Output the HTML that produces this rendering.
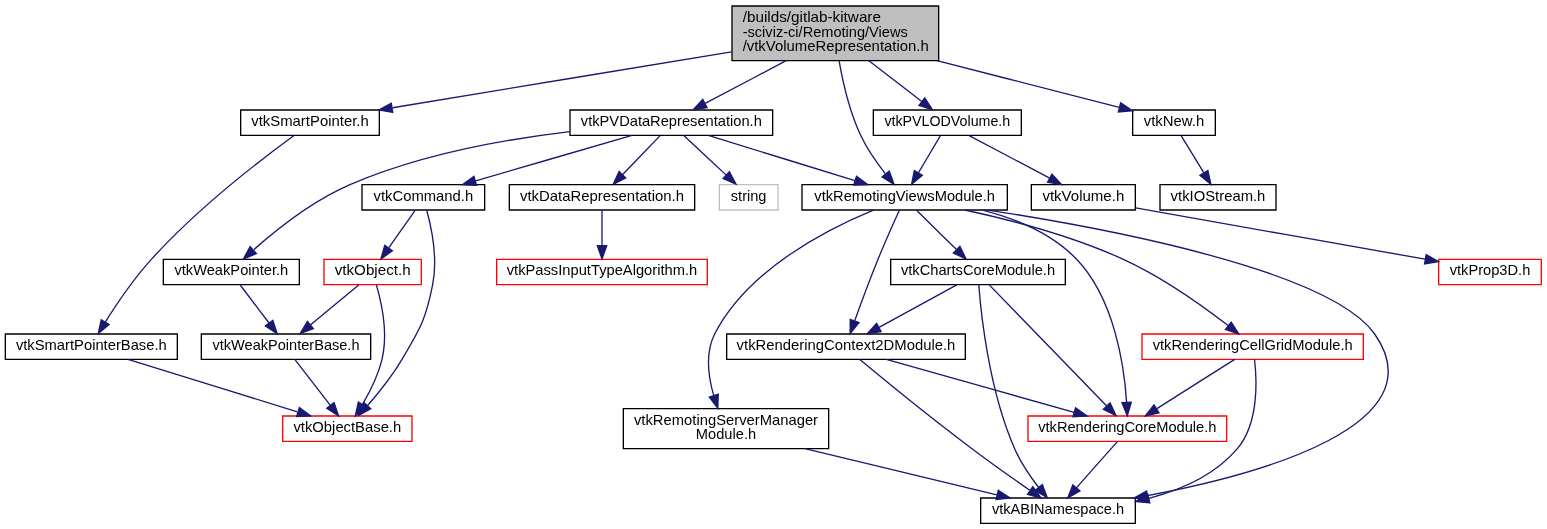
<!DOCTYPE html>
<html><head><meta charset="utf-8"><style>
html,body{margin:0;padding:0;background:#fff;width:1547px;height:529px;overflow:hidden}
svg{display:block;will-change:transform}
text{font-family:"Liberation Sans",sans-serif;font-size:10.4px;fill:#000}
</style></head><body>
<svg width="1547" height="529" viewBox="0 0 1547 529">
<g transform="scale(1.333333) translate(4 392.5)">
<polygon fill="#bfbfbf" stroke="#000" points="700,-388 545,-388 545,-347 700,-347 700,-388"/>
<text text-anchor="start" x="553" y="-376" textLength="103.71" lengthAdjust="spacingAndGlyphs">/builds/gitlab&#45;kitware</text>
<text text-anchor="start" x="553" y="-365" textLength="123.84" lengthAdjust="spacingAndGlyphs">&#45;sciviz&#45;ci/Remoting/Views</text>
<text text-anchor="start" x="553" y="-354" textLength="139.53" lengthAdjust="spacingAndGlyphs">/vtkVolumeRepresentation.h</text>
<polygon fill="#fff" stroke="#000" points="575.5,-310 423.5,-310 423.5,-291 575.5,-291 575.5,-310"/>
<text text-anchor="middle" x="499.5" y="-298" textLength="135.77" lengthAdjust="spacingAndGlyphs">vtkPVDataRepresentation.h</text>
<polygon fill="#fff" stroke="#000" points="751.5,-254 597.5,-254 597.5,-235 751.5,-235 751.5,-254"/>
<text text-anchor="middle" x="674.5" y="-242" textLength="135.52" lengthAdjust="spacingAndGlyphs">vtkRemotingViewsModule.h</text>
<polygon fill="#fff" stroke="#000" points="907.5,-310 845.5,-310 845.5,-291 907.5,-291 907.5,-310"/>
<text text-anchor="middle" x="876.5" y="-298" textLength="45.35" lengthAdjust="spacingAndGlyphs">vtkNew.h</text>
<polygon fill="#fff" stroke="#000" points="762,-310 651,-310 651,-291 762,-291 762,-310"/>
<text text-anchor="middle" x="706.5" y="-298" textLength="94.39" lengthAdjust="spacingAndGlyphs">vtkPVLODVolume.h</text>
<polygon fill="#fff" stroke="#000" points="280.5,-310 176.5,-310 176.5,-291 280.5,-291 280.5,-310"/>
<text text-anchor="middle" x="228.5" y="-298" textLength="88.23" lengthAdjust="spacingAndGlyphs">vtkSmartPointer.h</text>
<polygon fill="#fff" stroke="#000" points="359.5,-254 267.5,-254 267.5,-235 359.5,-235 359.5,-254"/>
<text text-anchor="middle" x="313.5" y="-242" textLength="74.69" lengthAdjust="spacingAndGlyphs">vtkCommand.h</text>
<polygon fill="#fff" stroke="#000" points="517,-254 378,-254 378,-235 517,-235 517,-254"/>
<text text-anchor="middle" x="447.5" y="-242" textLength="123.10" lengthAdjust="spacingAndGlyphs">vtkDataRepresentation.h</text>
<polygon fill="#fff" stroke="#000" points="220.5,-198 118.5,-198 118.5,-179 220.5,-179 220.5,-198"/>
<text text-anchor="middle" x="169.5" y="-186" textLength="85.40" lengthAdjust="spacingAndGlyphs">vtkWeakPointer.h</text>
<polygon fill="#fff" stroke="#bfbfbf" points="579.5,-254 535.5,-254 535.5,-235 579.5,-235 579.5,-254"/>
<text text-anchor="middle" x="557.5" y="-242" textLength="26.75" lengthAdjust="spacingAndGlyphs">string</text>
<polygon fill="#fff" stroke="#ff0000" points="312,-198 239,-198 239,-179 312,-179 312,-198"/>
<text text-anchor="middle" x="275.5" y="-186" textLength="56.86" lengthAdjust="spacingAndGlyphs">vtkObject.h</text>
<polygon fill="#fff" stroke="#ff0000" points="305,-80.5 208,-80.5 208,-61.5 305,-61.5 305,-80.5"/>
<text text-anchor="middle" x="256.5" y="-68.5" textLength="80.84" lengthAdjust="spacingAndGlyphs">vtkObjectBase.h</text>
<polygon fill="#fff" stroke="#000" points="274,-142 147,-142 147,-123 274,-123 274,-142"/>
<text text-anchor="middle" x="210.5" y="-130" textLength="110.30" lengthAdjust="spacingAndGlyphs">vtkWeakPointerBase.h</text>
<polygon fill="#fff" stroke="#ff0000" points="526.5,-198 368.5,-198 368.5,-179 526.5,-179 526.5,-198"/>
<text text-anchor="middle" x="447.5" y="-186" textLength="142.93" lengthAdjust="spacingAndGlyphs">vtkPassInputTypeAlgorithm.h</text>
<polygon fill="#fff" stroke="#000" points="847.5,-19 731.5,-19 731.5,0 847.5,0 847.5,-19"/>
<text text-anchor="middle" x="789.5" y="-7" textLength="99.13" lengthAdjust="spacingAndGlyphs">vtkABINamespace.h</text>
<polygon fill="#fff" stroke="#000" points="617.5,-86 463.5,-86 463.5,-56 617.5,-56 617.5,-86"/>
<text text-anchor="middle" x="540.5" y="-74" textLength="138.06" lengthAdjust="spacingAndGlyphs">vtkRemotingServerManager</text>
<text text-anchor="middle" x="540.5" y="-63" textLength="45.20" lengthAdjust="spacingAndGlyphs">Module.h</text>
<polygon fill="#fff" stroke="#000" points="795,-198 664,-198 664,-179 795,-179 795,-198"/>
<text text-anchor="middle" x="729.5" y="-186" textLength="115.59" lengthAdjust="spacingAndGlyphs">vtkChartsCoreModule.h</text>
<polygon fill="#fff" stroke="#000" points="720,-142 541,-142 541,-123 720,-123 720,-142"/>
<text text-anchor="middle" x="630.5" y="-130" textLength="164.08" lengthAdjust="spacingAndGlyphs">vtkRenderingContext2DModule.h</text>
<polygon fill="#fff" stroke="#ff0000" points="916,-80.5 767,-80.5 767,-61.5 916,-61.5 916,-80.5"/>
<text text-anchor="middle" x="841.5" y="-68.5" textLength="133.69" lengthAdjust="spacingAndGlyphs">vtkRenderingCoreModule.h</text>
<polygon fill="#fff" stroke="#ff0000" points="1018.5,-142 852.5,-142 852.5,-123 1018.5,-123 1018.5,-142"/>
<text text-anchor="middle" x="935.5" y="-130" textLength="149.97" lengthAdjust="spacingAndGlyphs">vtkRenderingCellGridModule.h</text>
<polygon fill="#fff" stroke="#000" points="953,-254 866,-254 866,-235 953,-235 953,-254"/>
<text text-anchor="middle" x="909.5" y="-242" textLength="71.07" lengthAdjust="spacingAndGlyphs">vtkIOStream.h</text>
<polygon fill="#fff" stroke="#000" points="847.5,-254 769.5,-254 769.5,-235 847.5,-235 847.5,-254"/>
<text text-anchor="middle" x="808.5" y="-242" textLength="61.41" lengthAdjust="spacingAndGlyphs">vtkVolume.h</text>
<polygon fill="#fff" stroke="#ff0000" points="1152,-198 1075,-198 1075,-179 1152,-179 1152,-198"/>
<text text-anchor="middle" x="1113.5" y="-186" textLength="60.50" lengthAdjust="spacingAndGlyphs">vtkProp3D.h</text>
<polygon fill="#fff" stroke="#000" points="129,-142 0,-142 0,-123 129,-123 129,-142"/>
<text text-anchor="middle" x="64.5" y="-130" textLength="113.14" lengthAdjust="spacingAndGlyphs">vtkSmartPointerBase.h</text>
<path fill="none" stroke="#191970" d="M585.6,-347 C566.01,-336.65 542.45,-324.19 524.92,-314.93"/>
<polygon fill="#191970" stroke="#191970" points="526.35,-311.73 515.87,-310.15 523.08,-317.92 526.35,-311.73"/>
<path fill="none" stroke="#191970" d="M625.33,-346.88 C628.07,-331.22 633.09,-309 641.5,-291 646.34,-280.63 653.67,-270.22 660.2,-261.97"/>
<polygon fill="#191970" stroke="#191970" points="662.9,-264.2 666.56,-254.26 657.5,-259.74 662.9,-264.2"/>
<path fill="none" stroke="#191970" d="M698.71,-347 C743.59,-335.51 798.6,-321.44 835.44,-312.01"/>
<polygon fill="#191970" stroke="#191970" points="836.5,-315.35 845.32,-309.48 834.77,-308.57 836.5,-315.35"/>
<path fill="none" stroke="#191970" d="M647.7,-347 C660.33,-337.22 675.39,-325.57 687.11,-316.51"/>
<polygon fill="#191970" stroke="#191970" points="689.55,-319.04 695.32,-310.15 685.27,-313.5 689.55,-319.04"/>
<path fill="none" stroke="#191970" d="M544.66,-353.66 C470.1,-341.36 359.08,-323.04 290.38,-311.71"/>
<polygon fill="#191970" stroke="#191970" points="290.58,-308.19 280.14,-310.02 289.44,-315.1 290.58,-308.19"/>
<path fill="none" stroke="#191970" d="M470.03,-290.94 C438.33,-281.74 387.77,-267.06 352.73,-256.89"/>
<polygon fill="#191970" stroke="#191970" points="353.41,-253.44 342.83,-254.02 351.46,-260.17 353.41,-253.44"/>
<path fill="none" stroke="#191970" d="M490.91,-290.58 C483.34,-282.72 472.12,-271.07 462.99,-261.58"/>
<polygon fill="#191970" stroke="#191970" points="465.38,-259.03 455.93,-254.25 460.34,-263.88 465.38,-259.03"/>
<path fill="none" stroke="#191970" d="M527.23,-290.94 C556.93,-281.78 604.22,-267.19 637.17,-257.02"/>
<polygon fill="#191970" stroke="#191970" points="638.38,-260.31 646.9,-254.02 636.31,-253.62 638.38,-260.31"/>
<path fill="none" stroke="#191970" d="M423.44,-293.76 C374.71,-288.03 311,-276.62 258.5,-254 230.74,-242.04 203.26,-220.19 186.34,-205.26"/>
<polygon fill="#191970" stroke="#191970" points="188.28,-202.29 178.51,-198.18 183.58,-207.48 188.28,-202.29"/>
<path fill="none" stroke="#191970" d="M508.82,-290.82 C517.39,-282.84 530.31,-270.81 540.69,-261.15"/>
<polygon fill="#191970" stroke="#191970" points="543.08,-263.71 548.01,-254.33 538.31,-258.59 543.08,-263.71"/>
<path fill="none" stroke="#191970" d="M307.23,-234.58 C301.86,-226.96 293.98,-215.76 287.42,-206.44"/>
<polygon fill="#191970" stroke="#191970" points="290.28,-204.41 281.66,-198.25 284.55,-208.44 290.28,-204.41"/>
<path fill="none" stroke="#191970" d="M316.13,-234.66 C319.48,-222.17 324.38,-198.67 320.5,-179 315.29,-152.6 311.18,-146.17 297.5,-123 290.17,-110.59 280.04,-97.96 271.68,-88.37"/>
<polygon fill="#191970" stroke="#191970" points="274.19,-85.92 264.91,-80.81 268.98,-90.59 274.19,-85.92"/>
<path fill="none" stroke="#191970" d="M278.36,-178.61 C281.97,-166.06 287.18,-142.49 282.5,-123 279.61,-110.97 273.38,-98.58 267.75,-89.02"/>
<polygon fill="#191970" stroke="#191970" points="270.71,-87.17 262.45,-80.53 264.77,-90.87 270.71,-87.17"/>
<path fill="none" stroke="#191970" d="M265.06,-178.82 C255.35,-170.76 240.68,-158.58 229,-148.87"/>
<polygon fill="#191970" stroke="#191970" points="231.06,-146.03 221.13,-142.33 226.59,-151.42 231.06,-146.03"/>
<path fill="none" stroke="#191970" d="M217.09,-122.98 C223.99,-114.05 235,-99.81 243.63,-88.64"/>
<polygon fill="#191970" stroke="#191970" points="246.57,-90.56 249.92,-80.51 241.04,-86.28 246.57,-90.56"/>
<path fill="none" stroke="#191970" d="M447.5,-234.58 C447.5,-227.51 447.5,-217.36 447.5,-208.49"/>
<polygon fill="#191970" stroke="#191970" points="451,-208.25 447.5,-198.25 444,-208.25 451,-208.25"/>
<path fill="none" stroke="#191970" d="M736.78,-234.96 C828.65,-220.87 993.59,-189.52 1027,-142 1074.95,-73.89 942.69,-37.06 856.67,-20.84"/>
<polygon fill="#191970" stroke="#191970" points="857.17,-17.38 846.71,-19.01 855.91,-24.26 857.17,-17.38"/>
<path fill="none" stroke="#191970" d="M651.1,-234.96 C617.64,-221.26 557.05,-190.82 532,-142 524.85,-127.83 527.22,-109.94 531.32,-95.8"/>
<polygon fill="#191970" stroke="#191970" points="534.66,-96.85 534.38,-86.26 527.99,-94.72 534.66,-96.85"/>
<path fill="none" stroke="#191970" d="M683.58,-234.58 C691.67,-226.64 703.7,-214.84 713.41,-205.3"/>
<polygon fill="#191970" stroke="#191970" points="715.9,-207.75 720.59,-198.25 711,-202.76 715.9,-207.75"/>
<path fill="none" stroke="#191970" d="M670.52,-234.84 C666.37,-225.73 659.75,-210.95 654.5,-198 648.26,-182.6 641.71,-164.9 637.04,-151.94"/>
<polygon fill="#191970" stroke="#191970" points="640.26,-150.56 633.6,-142.33 633.67,-152.92 640.26,-150.56"/>
<path fill="none" stroke="#191970" d="M732.94,-234.94 C757.66,-228.55 784.97,-217.41 803.5,-198 831.94,-168.21 839.17,-117.91 840.96,-90.74"/>
<polygon fill="#191970" stroke="#191970" points="844.46,-90.8 841.44,-80.65 837.47,-90.47 844.46,-90.8"/>
<path fill="none" stroke="#191970" d="M719.69,-235 C753.4,-227.7 800.07,-215.57 838.5,-198 867.88,-184.57 898.35,-162.8 917.12,-148.31"/>
<polygon fill="#191970" stroke="#191970" points="919.4,-150.97 925.11,-142.04 915.08,-145.47 919.4,-150.97"/>
<path fill="none" stroke="#191970" d="M599.67,-55.97 C643.62,-45.4 703.29,-31.09 743.63,-21.37"/>
<polygon fill="#191970" stroke="#191970" points="744.69,-24.72 753.62,-19.01 743.08,-17.91 744.69,-24.72"/>
<path fill="none" stroke="#191970" d="M730.1,-178.81 C731.69,-157.18 737.81,-99.5 757,-56 761.48,-45.55 768.64,-35.12 775.03,-26.89"/>
<polygon fill="#191970" stroke="#191970" points="777.73,-29.12 781.45,-19.21 772.35,-24.64 777.73,-29.12"/>
<path fill="none" stroke="#191970" d="M713.59,-178.82 C697.86,-170.24 673.56,-156.99 655.29,-147.02"/>
<polygon fill="#191970" stroke="#191970" points="656.82,-143.87 646.37,-142.15 653.47,-150.02 656.82,-143.87"/>
<path fill="none" stroke="#191970" d="M737.92,-178.82 C756.65,-159.5 802,-112.74 826,-87.98"/>
<polygon fill="#191970" stroke="#191970" points="828.54,-90.4 832.98,-80.78 823.51,-85.52 828.54,-90.4"/>
<path fill="none" stroke="#191970" d="M640.88,-122.91 C658.01,-108.67 693.77,-79.44 725,-56 739.22,-45.26 755.65,-33.66 768.3,-24.86"/>
<polygon fill="#191970" stroke="#191970" points="770.59,-27.53 776.88,-19 766.65,-21.75 770.59,-27.53"/>
<path fill="none" stroke="#191970" d="M660.73,-122.98 C697.79,-112.53 760.69,-94.79 801.66,-83.23"/>
<polygon fill="#191970" stroke="#191970" points="802.65,-86.59 811.32,-80.51 800.75,-79.85 802.65,-86.59"/>
<path fill="none" stroke="#191970" d="M834.19,-61.48 C826.14,-52.46 813.42,-38.02 803.48,-26.81"/>
<polygon fill="#191970" stroke="#191970" points="805.96,-24.32 796.79,-19.01 800.64,-28.88 805.96,-24.32"/>
<path fill="none" stroke="#191970" d="M936.89,-122.89 C938.69,-107.56 940.27,-75.34 924,-56 907.46,-36.33 882.07,-25.14 857.73,-18.77"/>
<polygon fill="#191970" stroke="#191970" points="858.37,-15.33 847.83,-16.41 856.74,-22.14 858.37,-15.33"/>
<path fill="none" stroke="#191970" d="M922.03,-122.98 C906.82,-113.34 881.81,-97.52 863.7,-86.05"/>
<polygon fill="#191970" stroke="#191970" points="865.26,-82.9 854.94,-80.51 861.52,-88.81 865.26,-82.9"/>
<path fill="none" stroke="#191970" d="M176.27,-178.58 C182.06,-170.96 190.56,-159.76 197.64,-150.44"/>
<polygon fill="#191970" stroke="#191970" points="200.6,-152.33 203.86,-142.25 195.02,-148.1 200.6,-152.33"/>
<path fill="none" stroke="#191970" d="M881.95,-290.58 C886.51,-283.11 893.17,-272.22 898.79,-263.02"/>
<polygon fill="#191970" stroke="#191970" points="901.92,-264.61 904.15,-254.25 895.95,-260.96 901.92,-264.61"/>
<path fill="none" stroke="#191970" d="M701.22,-290.58 C696.79,-283.11 690.34,-272.22 684.88,-263.02"/>
<polygon fill="#191970" stroke="#191970" points="687.79,-261.07 679.69,-254.25 681.77,-264.64 687.79,-261.07"/>
<path fill="none" stroke="#191970" d="M722.89,-290.82 C739.17,-282.2 764.37,-268.86 783.22,-258.89"/>
<polygon fill="#191970" stroke="#191970" points="784.95,-261.93 792.15,-254.15 781.68,-255.74 784.95,-261.93"/>
<path fill="none" stroke="#191970" d="M847.75,-236.55 C903.26,-226.72 1004.64,-208.77 1064.86,-198.11"/>
<polygon fill="#191970" stroke="#191970" points="1065.65,-201.53 1074.88,-196.34 1064.43,-194.63 1065.65,-201.53"/>
<path fill="none" stroke="#191970" d="M216.48,-290.88 C193.95,-274.4 144.53,-236.61 109.5,-198 96.21,-183.35 83.55,-164.63 75.07,-151.14"/>
<polygon fill="#191970" stroke="#191970" points="77.9,-149.05 69.68,-142.37 71.93,-152.72 77.9,-149.05"/>
<path fill="none" stroke="#191970" d="M92.01,-122.98 C125.37,-112.64 181.76,-95.16 219.06,-83.6"/>
<polygon fill="#191970" stroke="#191970" points="220.53,-86.81 229.04,-80.51 218.45,-80.13 220.53,-86.81"/>
</g>
</svg>
</body></html>
